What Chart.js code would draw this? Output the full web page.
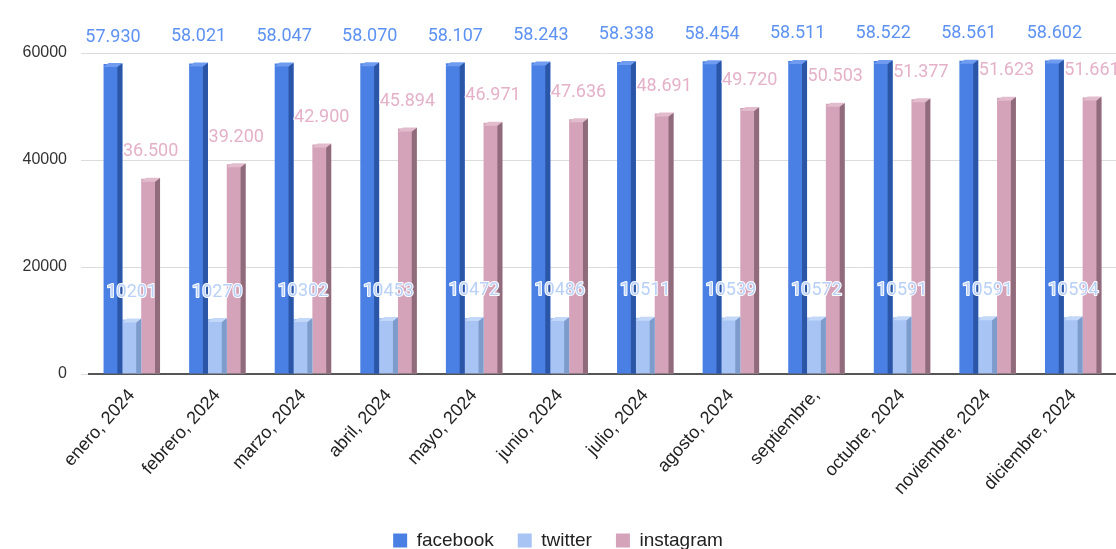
<!DOCTYPE html>
<html>
<head>
<meta charset="utf-8">
<script src="https://cdn.jsdelivr.net/npm/chart.js@4.4.1/dist/chart.umd.min.js"></script>
<style>
    body { margin: 0; background: #fff; }
    #chart-canvas { display: block; }
</style>
</head>
<body>
<canvas id="chart-canvas" width="1116" height="549"></canvas>
<script>
var months = ["enero, 2024", "febrero, 2024", "marzo, 2024", "abril, 2024", "mayo, 2024", "junio, 2024",
    "julio, 2024", "agosto, 2024", "septiembre,", "octubre, 2024", "noviembre, 2024", "diciembre, 2024"];
var facebook = [57930, 58021, 58047, 58070, 58107, 58243, 58338, 58454, 58511, 58522, 58561, 58602];
var twitter = [10201, 10270, 10302, 10453, 10472, 10486, 10511, 10539, 10572, 10591, 10591, 10594];
var instagram = [36500, 39200, 42900, 45894, 46971, 47636, 48691, 49720, 50503, 51377, 51623, 51661];
var yTicks = [0, 20000, 40000, 60000];

// front, side and label colours per series
var seriesStyle = [
    { front: '#4a80e3', side: '#2b55a6', top: '#6f9cf0', label: '#5d92f2', dots: true },
    { front: '#a7c4f4', side: '#7d9ccc', top: '#c3d7f8', label: '#b9d0f7', dots: false },
    { front: '#d4a3ba', side: '#8f6b7b', top: '#e2bccd', label: '#e4b1c8', dots: true }
];

function formatValue(v, dots) {
    var s = String(v);
    if (!dots) return s;
    return s.replace(/\B(?=(\d{3})+(?!\d))/g, '.');
}

// fake 3D: darker right face and lighter top cap on each bar
const bar3d = {
    id: 'bar3d',
    afterDatasetDraw(chart, args) {
        const ctx = chart.ctx;
        const style = seriesStyle[args.index];
        const depth = 5;
        args.meta.data.forEach(el => {
            const p = el.getProps(['x', 'y', 'base', 'width'], true);
            const right = p.x + p.width / 2;
            ctx.save();
            ctx.fillStyle = style.side;
            ctx.beginPath();
            ctx.moveTo(right - depth, p.y + 3);
            ctx.lineTo(right, p.y - 1);
            ctx.lineTo(right, p.base);
            ctx.lineTo(right - depth, p.base);
            ctx.closePath();
            ctx.fill();
            ctx.fillStyle = style.top;
            ctx.beginPath();
            ctx.moveTo(p.x - p.width / 2, p.y + 3);
            ctx.lineTo(p.x - p.width / 2 + depth, p.y - 1);
            ctx.lineTo(right, p.y - 1);
            ctx.lineTo(right - depth, p.y + 3);
            ctx.closePath();
            ctx.fill();
            ctx.restore();
        });
    }
};

// value labels above each bar, with a thin white halo
const valueLabels = {
    id: 'valueLabels',
    afterDatasetsDraw(chart) {
        const ctx = chart.ctx;
        ctx.save();
        ctx.font = '18px Roboto';
        ctx.textAlign = 'center';
        ctx.textBaseline = 'middle';
        ctx.lineJoin = 'round';
        chart.data.datasets.forEach((ds, i) => {
            const style = seriesStyle[i];
            chart.getDatasetMeta(i).data.forEach((el, j) => {
                const txt = formatValue(ds.data[j], style.dots);
                ctx.strokeStyle = '#ffffff';
                ctx.lineWidth = 2;
                ctx.strokeText(txt, el.x, el.y - 27);
                ctx.fillStyle = style.label;
                ctx.fillText(txt, el.x, el.y - 27);
            });
        });
        ctx.restore();
    }
};

const data = {
    labels: months,
    datasets: [
        { label: 'facebook', data: facebook, backgroundColor: seriesStyle[0].front },
        { label: 'twitter', data: twitter, backgroundColor: seriesStyle[1].front },
        { label: 'instagram', data: instagram, backgroundColor: seriesStyle[2].front }
    ]
};

const config = {
    type: 'bar',
    data,
    options: {
        responsive: false,
        animation: false,
        layout: { padding: { top: 53, right: 0, left: 0, bottom: -11 } },
        datasets: { bar: { categoryPercentage: 0.66, barPercentage: 1.0 } },
        plugins: {
            tooltip: { enabled: false },
            legend: {
                position: 'bottom',
                labels: {
                    font: { family: 'Liberation Sans', size: 19 },
                    color: '#222',
                    boxWidth: 14,
                    boxHeight: 14,
                    padding: 24
                }
            }
        },
        scales: {
            x: {
                grid: { display: false },
                border: { color: '#555', width: 2 },
                afterFit: scale => { scale.height = 133; },
                ticks: {
                    font: { family: 'Liberation Sans', size: 18 },
                    color: '#222',
                    minRotation: 48,
                    maxRotation: 48,
                    autoSkip: false
                }
            },
            y: {
                min: 0,
                max: 60000,
                afterBuildTicks: scale => { scale.ticks = yTicks.map(v => ({ value: v })); },
                afterFit: scale => { scale.width = 89; },
                grid: { color: '#dcdcdc', tickLength: 8, tickColor: '#dcdcdc' },
                border: { display: false },
                ticks: {
                    font: { family: 'Liberation Sans', size: 16 },
                    color: '#333',
                    padding: 14,
                    callback: v => String(v)
                }
            }
        }
    },
    plugins: [bar3d, valueLabels]
};

var myChart = new Chart(document.getElementById('chart-canvas'), config);
</script>
</body>
</html>
